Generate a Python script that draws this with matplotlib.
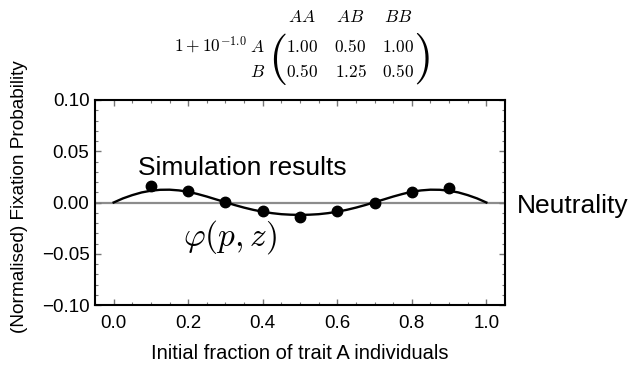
import numpy as np
import matplotlib
matplotlib.use('Agg')
import matplotlib.pyplot as plt
from matplotlib.ticker import MultipleLocator, FormatStrFormatter, FuncFormatter

plt.rcParams['font.family'] = ['Liberation Sans', 'DejaVu Sans']
plt.rcParams['mathtext.fontset'] = 'cm'

# simulation points
sim_p = [0.1, 0.2, 0.3, 0.4, 0.5, 0.6, 0.7, 0.8, 0.9]
sim_fix = [0.0157, 0.0110, 0.0006, -0.0086, -0.0140, -0.0086, -0.0003, 0.0105, 0.0138]

# theory curve phi(p, z)
curve_p = [0.0, 0.025, 0.05, 0.075, 0.1, 0.125, 0.15, 0.175, 0.2, 0.225, 0.25,
           0.275, 0.3, 0.325, 0.35, 0.375, 0.4, 0.425, 0.45, 0.475, 0.5,
           0.525, 0.55, 0.575, 0.6, 0.625, 0.65, 0.675, 0.7, 0.725, 0.75,
           0.775, 0.8, 0.825, 0.85, 0.875, 0.9, 0.925, 0.95, 0.975, 1.0]
curve_fix = [0.0, 0.0040, 0.0072, 0.0098, 0.0115, 0.0124, 0.0125, 0.0118, 0.0105,
             0.0083, 0.0058, 0.0030, 0.0003, -0.0025, -0.0050, -0.0072, -0.0090,
             -0.0104, -0.0114, -0.0119, -0.0121, -0.0119, -0.0114, -0.0104, -0.0090,
             -0.0072, -0.0050, -0.0025, 0.0003, 0.0030, 0.0058, 0.0083, 0.0105,
             0.0118, 0.0125, 0.0124, 0.0115, 0.0098, 0.0072, 0.0040, 0.0]

# payoff matrix shown above the plot
col_labels = ['AA', 'AB', 'BB']
row_labels = ['A', 'B']
payoff = [[1.00, 0.50, 1.00],
          [0.50, 1.25, 0.50]]

W, H = 630, 365
fig = plt.figure(figsize=(6.3, 3.65), dpi=100)
ax = fig.add_axes([95/W, 1-305/H, 410/W, 205/H])

ax.axhline(0, color='#8c8c8c', lw=1.6, zorder=1)
ax.plot(curve_p, curve_fix, color='black', lw=1.7, zorder=2)
ax.plot(sim_p, sim_fix, 'o', color='black', ms=7.5, zorder=3)

ax.set_xlim(-0.05, 1.05)
ax.set_ylim(-0.1, 0.1)
ax.xaxis.set_major_locator(MultipleLocator(0.2))
ax.xaxis.set_minor_locator(MultipleLocator(0.05))
ax.yaxis.set_major_locator(MultipleLocator(0.05))
ax.yaxis.set_minor_locator(MultipleLocator(0.01))
ax.xaxis.set_major_formatter(FormatStrFormatter('%.1f'))
ax.yaxis.set_major_formatter(FuncFormatter(
    lambda v, pos: ('%.2f' % v).replace('-', '\u2212')))
ax.tick_params(which='both', direction='in', top=True, right=True,
               color='#777777', labelsize=13.5)
ax.tick_params(axis='x', pad=7)
ax.tick_params(axis='y', pad=4)
ax.tick_params(which='major', length=4, width=1)
ax.tick_params(which='minor', length=2, width=0.8)
for s in ax.spines.values():
    s.set_linewidth(1.5)

ax.set_xlabel('Initial fraction of trait A individuals', fontsize=14.5, labelpad=9)
ax.set_ylabel('(Normalised) Fixation Probability', fontsize=13.7)
ax.yaxis.set_label_coords(-0.163, 0.529)

ax.text(0.066, 0.0266, 'Simulation results', fontsize=19, va='baseline', ha='left')
ax.text(0.187, -0.0339, r'$\varphi(p,z)$', fontsize=24, va='center', ha='left')
fig.text(517/W, 1-213/H, 'Neutrality', fontsize=19, va='baseline', ha='left')

# matrix header
col_x = [302, 350.5, 398.5]
row_y = [52, 77]
fs = 12.5
for cx, lab in zip(col_x, col_labels):
    fig.text(cx/W, 1-22/H, '$%s$' % lab, fontsize=fs, ha='center', va='baseline')
for ry, lab, vals in zip(row_y, row_labels, payoff):
    fig.text(265/W, 1-ry/H, '$%s$' % lab, fontsize=fs, ha='right', va='baseline')
    for cx, v in zip(col_x, vals):
        fig.text(cx/W, 1-ry/H, '$%.2f$' % v, fontsize=fs, ha='center', va='baseline')
fig.text(247/W, 1-51/H, r'$1+10^{-1.0}$', fontsize=fs, ha='right', va='baseline')
fig.text(277.5/W, 1-59/H, '$($', fontsize=36, ha='center', va='center')
fig.text(421.5/W, 1-59/H, '$)$', fontsize=36, ha='center', va='center')

plt.savefig('out.png', dpi=100)
